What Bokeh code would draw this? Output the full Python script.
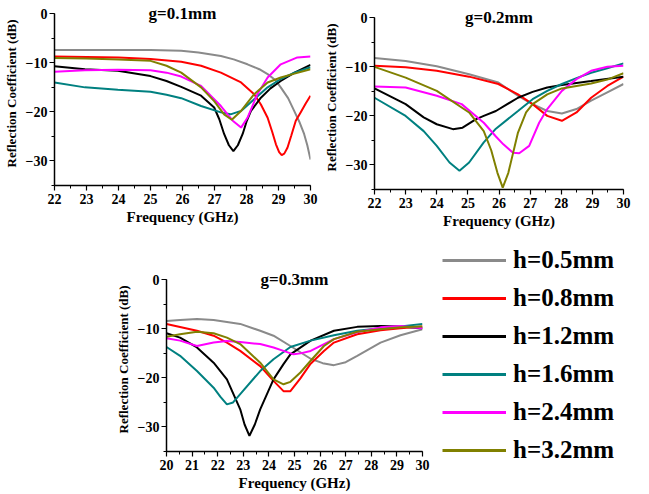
from bokeh.plotting import figure
from bokeh.layouts import column, row, Spacer
from bokeh.models import Label, Legend, LegendItem, SingleIntervalTicker, Range1d
from bokeh.embed import file_html
from bokeh.resources import INLINE

labels = ["h=0.5mm", "h=0.8mm", "h=1.2mm", "h=1.6mm", "h=2.4mm", "h=3.2mm"]
colors = ["#8a8a8a", "#ff0000", "#000000", "#008080", "#ff00ff", "#808000"]

# ---------------- g = 0.1 mm ----------------
g01_h05_f = [22, 23, 24, 25, 25.96, 26.5, 27.2, 27.6, 28.03, 28.4, 28.66, 28.9, 29.07, 29.3, 29.49, 29.65, 29.8, 29.9, 30]
g01_h05_db = [-7.4, -7.4, -7.4, -7.4, -7.55, -7.9, -8.6, -9.3, -10.3, -11.3, -12.3, -13.5, -15.0, -17.2, -19.8, -22.0, -24.5, -26.8, -29.7]
g01_h08_f = [22, 23, 24, 25, 25.96, 26.58, 27.2, 27.83, 28.24, 28.45, 28.66, 28.8, 28.92, 29.02, 29.1, 29.18, 29.28, 29.4, 29.54, 29.7, 29.85, 30]
g01_h08_db = [-8.7, -8.8, -8.9, -9.2, -9.8, -10.6, -12.0, -14.0, -16.4, -18.5, -21.2, -24.0, -26.6, -28.2, -28.8, -28.5, -27.3, -24.8, -21.8, -20.0, -18.3, -16.7]
g01_h12_f = [22, 22.95, 23.98, 25.0, 25.5, 25.96, 26.58, 26.99, 27.15, 27.3, 27.45, 27.59, 27.73, 27.88, 28.0, 28.14, 28.45, 28.75, 29.07, 29.5, 30]
g01_h12_db = [-10.7, -11.3, -11.6, -12.7, -13.7, -14.9, -16.7, -19.1, -21.5, -24.5, -26.8, -28.0, -26.8, -24.5, -22.0, -19.8, -17.1, -15.2, -13.7, -12.0, -10.4]
g01_h16_f = [22, 22.95, 23.98, 25, 25.5, 25.96, 26.58, 27.2, 27.5, 27.83, 28.24, 28.66, 29.07, 29.5, 30]
g01_h16_db = [-14.0, -15.0, -15.5, -15.9, -16.5, -17.2, -18.8, -20.1, -20.5, -19.8, -17.4, -15.0, -13.3, -12.0, -10.9]
g01_h24_f = [22, 22.95, 23.98, 25, 25.5, 25.96, 26.58, 27.2, 27.57, 27.83, 28.03, 28.34, 28.66, 29.07, 29.59, 30]
g01_h24_db = [-11.8, -11.5, -11.4, -11.5, -12.0, -12.8, -14.7, -18.8, -21.8, -23.2, -21.2, -16.4, -13.0, -10.3, -8.9, -8.7]
g01_h32_f = [22, 23, 24, 25, 25.5, 25.96, 26.58, 26.99, 27.3, 27.54, 27.83, 28.24, 28.66, 29.07, 29.5, 30]
g01_h32_db = [-9.0, -9.1, -9.3, -9.6, -10.6, -12.0, -15.0, -17.8, -20.5, -21.6, -19.8, -16.4, -14.0, -13.0, -12.2, -11.3]

# ---------------- g = 0.2 mm ----------------
g02_h05_f = [22, 23, 24, 25.04, 25.98, 26.61, 27.08, 27.55, 28.02, 28.49, 28.96, 29.48, 30]
g02_h05_db = [-8.2, -8.8, -9.9, -11.5, -13.2, -15.9, -17.6, -19.0, -19.5, -18.6, -16.9, -15.2, -13.5]
g02_h08_f = [22, 23, 24, 25.04, 25.98, 26.61, 27.08, 27.55, 28.02, 28.49, 28.96, 29.48, 30]
g02_h08_db = [-9.8, -10.1, -10.8, -12.0, -13.5, -15.6, -17.6, -20.0, -21.0, -19.3, -16.3, -13.9, -12.0]
g02_h12_f = [22, 23, 23.58, 24, 24.52, 24.83, 25.25, 25.51, 25.9, 26.61, 27.08, 27.55, 28.02, 28.96, 30]
g02_h12_db = [-14.4, -17.6, -20.3, -21.7, -22.7, -22.4, -20.7, -20.0, -19.0, -16.3, -15.1, -14.2, -13.7, -12.9, -12.0]
g02_h16_f = [22, 23, 23.58, 24, 24.41, 24.73, 25.04, 25.51, 25.9, 26.61, 27.08, 27.55, 28.02, 28.49, 28.96, 29.48, 30]
g02_h16_db = [-16.3, -20.0, -23.1, -26.1, -29.5, -31.2, -29.5, -25.4, -22.6, -19.0, -16.6, -14.9, -13.5, -12.3, -11.2, -10.3, -9.3]
g02_h24_f = [22, 23, 24, 24.8, 25.51, 25.9, 26.14, 26.45, 26.65, 26.97, 27.29, 27.55, 28.02, 28.49, 28.96, 29.48, 30]
g02_h24_db = [-14.0, -14.2, -15.9, -17.6, -21.4, -24.2, -25.8, -27.5, -27.6, -26.1, -21.4, -18.6, -14.9, -12.5, -10.8, -10.0, -9.8]
g02_h32_f = [22, 23, 24, 25.04, 25.51, 25.75, 25.95, 26.12, 26.3, 26.61, 26.87, 27.08, 27.55, 28.02, 28.49, 28.96, 29.48, 30]
g02_h32_db = [-10.0, -12.2, -14.9, -19.3, -23.1, -27.0, -31.6, -34.6, -31.6, -23.4, -19.3, -17.6, -15.6, -14.4, -13.9, -13.4, -12.6, -11.3]

# ---------------- g = 0.3 mm ----------------
g03_h05_f = [20, 20.53, 21.19, 21.84, 22.88, 23.66, 24.18, 24.84, 25.63, 26.1, 26.54, 27.0, 27.45, 28.36, 29.14, 30]
g03_h05_db = [-8.4, -8.2, -8.0, -8.2, -9.0, -10.4, -11.4, -13.5, -16.1, -17.0, -17.4, -16.8, -15.5, -12.8, -11.3, -10.1]
g03_h08_f = [20, 21.19, 21.84, 22.36, 22.88, 23.66, 24.18, 24.57, 24.84, 25.23, 25.63, 26.15, 26.54, 27.45, 28.36, 29.14, 30]
g03_h08_db = [-9.0, -10.4, -11.4, -12.8, -14.5, -17.6, -20.6, -22.7, -22.7, -20.1, -17.1, -14.5, -12.8, -11.1, -10.3, -9.9, -9.5]
g03_h12_f = [20, 20.53, 21.19, 21.84, 22.36, 22.88, 23.05, 23.24, 23.45, 23.66, 24.18, 24.57, 24.84, 25.63, 26.54, 27.45, 28.36, 29.14, 30]
g03_h12_db = [-10.9, -11.8, -13.8, -16.9, -20.3, -26.4, -29.5, -31.8, -29.5, -26.4, -20.3, -17.2, -15.2, -12.4, -10.4, -9.6, -9.4, -9.5, -9.9]
g03_h16_f = [20, 20.53, 21.19, 21.84, 22.1, 22.36, 22.6, 22.88, 23.66, 24.18, 24.84, 25.63, 26.54, 27.45, 28.36, 29.14, 30]
g03_h16_db = [-13.7, -15.5, -18.6, -22.0, -23.8, -25.4, -25.0, -23.3, -18.6, -16.2, -13.7, -12.4, -11.3, -10.4, -9.9, -9.5, -9.0]
g03_h24_f = [20, 20.53, 21.19, 21.84, 22.36, 22.88, 23.66, 24.18, 24.57, 24.96, 25.23, 25.63, 26.54, 27.45, 28.36, 29.14, 30]
g03_h24_db = [-11.9, -12.4, -13.5, -12.8, -12.5, -12.7, -13.1, -13.8, -14.5, -15.2, -15.0, -14.5, -12.1, -10.7, -9.7, -9.4, -9.9]
g03_h32_f = [20, 20.53, 21.19, 21.84, 22.36, 22.88, 23.66, 24.18, 24.57, 24.84, 25.23, 25.63, 26.15, 26.54, 27.45, 28.36, 29.14, 30]
g03_h32_db = [-11.6, -11.1, -10.6, -10.9, -11.8, -13.1, -16.9, -20.3, -21.3, -20.8, -18.9, -16.5, -13.5, -12.1, -10.6, -10.1, -9.7, -9.5]

FONT = "Liberation Serif"


def no_frame_align(p):
    try:
        p.frame_align = False
    except AttributeError:
        pass


def make_plot(title, xr, y_top, width, height, bl, br, bt, bb, series):
    p = figure(width=width, height=height, x_range=Range1d(*xr), y_range=Range1d(-35, y_top),
               output_backend="svg", toolbar_location=None, title=None,
               min_border_left=bl, min_border_right=br, min_border_top=bt, min_border_bottom=bb)
    no_frame_align(p)
    p.grid.visible = False
    p.outline_line_color = None
    p.background_fill_color = "white"
    p.xaxis.ticker = SingleIntervalTicker(interval=1, num_minor_ticks=2)
    p.yaxis.ticker = SingleIntervalTicker(interval=10, num_minor_ticks=2)
    p.yaxis.bounds = (-35, 0)
    p.xaxis.axis_label = "Frequency (GHz)"
    p.yaxis.axis_label = "Reflection Coefficient (dB)"
    for ax in (p.xaxis, p.yaxis):
        ax.axis_line_width = 1.5
        ax.axis_line_color = "black"
        ax.major_tick_in = 0
        ax.major_tick_out = 5
        ax.minor_tick_in = 0
        ax.minor_tick_out = 3
        ax.major_tick_line_width = 1.2
        ax.major_tick_line_color = "black"
        ax.minor_tick_line_color = "black"
        ax.major_label_text_font = FONT
        ax.major_label_text_font_style = "bold"
        ax.major_label_text_font_size = "14px"
        ax.major_label_text_color = "black"
        ax.axis_label_text_font = FONT
        ax.axis_label_text_font_style = "bold"
        ax.axis_label_text_color = "black"
    p.xaxis.axis_label_text_font_size = "15px"
    p.yaxis.axis_label_text_font_size = "13px"
    p.xaxis.major_label_standoff = 3
    p.xaxis.axis_label_standoff = 2
    p.yaxis.major_label_standoff = 2
    p.yaxis.axis_label_standoff = 4
    for (f, db), c in zip(series, colors):
        p.line(f, db, line_color=c, line_width=2)
    p.add_layout(Label(x=(xr[0] + xr[1]) / 2, y=0, text=title, text_align="center",
                       text_baseline="middle", text_font=FONT, text_font_style="bold",
                       text_font_size="17px", text_color="black"))
    return p


p1 = make_plot("g=0.1mm", (22, 30), 2.5, 320, 235, 53, 10, 1, 50,
               [(g01_h05_f, g01_h05_db), (g01_h08_f, g01_h08_db), (g01_h12_f, g01_h12_db),
                (g01_h16_f, g01_h16_db), (g01_h24_f, g01_h24_db), (g01_h32_f, g01_h32_db)])
p2 = make_plot("g=0.2mm", (22, 30), 2.5, 329, 235, 48, 26, 5, 46,
               [(g02_h05_f, g02_h05_db), (g02_h08_f, g02_h08_db), (g02_h12_f, g02_h12_db),
                (g02_h16_f, g02_h16_db), (g02_h24_f, g02_h24_db), (g02_h32_f, g02_h32_db)])
p3 = make_plot("g=0.3mm", (20, 30), 2.5, 330, 259, 56, 18, 32, 43,
               [(g03_h05_f, g03_h05_db), (g03_h08_f, g03_h08_db), (g03_h12_f, g03_h12_db),
                (g03_h16_f, g03_h16_db), (g03_h24_f, g03_h24_db), (g03_h32_f, g03_h32_db)])

# legend panel (its frame covers the panel from y=10 to the bottom)
pl = figure(width=209, height=259, output_backend="svg", toolbar_location=None, title=None,
            x_range=Range1d(0, 1), y_range=Range1d(0, 1),
            x_axis_location=None, y_axis_location=None,
            min_border_left=0, min_border_right=0, min_border_top=10, min_border_bottom=0)
no_frame_align(pl)
pl.grid.visible = False
pl.outline_line_color = None
nan = float("nan")
items = []
for lab, c in zip(labels, colors):
    r = pl.line(x=[nan, nan], y=[nan, nan], line_color=c, line_width=3)
    items.append(LegendItem(label=lab, renderers=[r]))
leg = Legend(items=items, location=(2, 29), glyph_width=64, glyph_height=30, label_height=30,
             spacing=8, padding=0, margin=0, border_line_color=None, background_fill_alpha=0,
             label_standoff=7, label_text_font=FONT, label_text_font_style="bold",
             label_text_font_size="25px", label_text_color="black")
pl.add_layout(leg)

layout = column(row(p1, p2), row(Spacer(width=110, height=259), p3, pl))

open("out.html", "w").write(file_html(layout, INLINE))
